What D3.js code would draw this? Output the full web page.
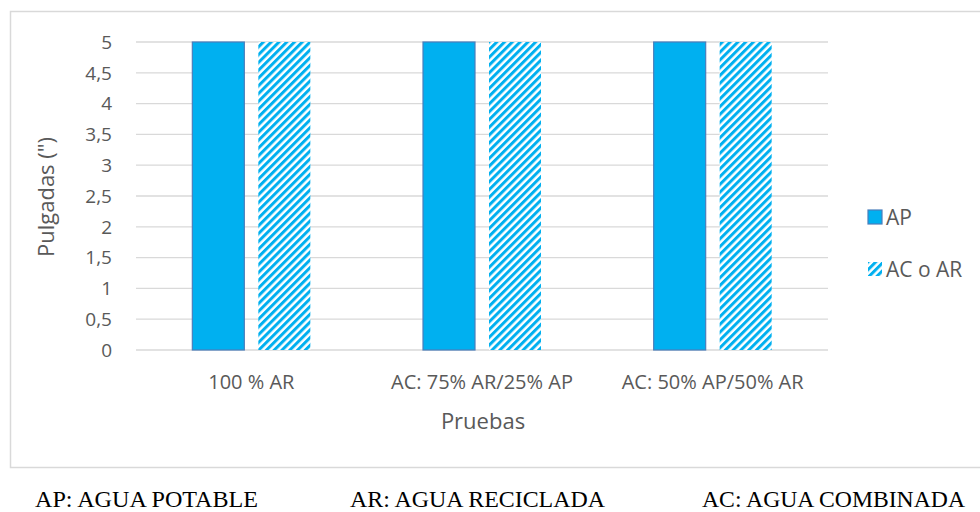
<!DOCTYPE html>
<html><head><meta charset="utf-8">
<script src="https://cdn.jsdelivr.net/npm/d3@7"></script>
<style>body{margin:0;background:#fff}svg{display:block}</style>
</head><body>
<svg id="c" width="980" height="512"></svg>
<script>
const categories = ["100 % AR", "AC: 75% AR/25% AP", "AC: 50% AP/50% AR"];
const seriesNames = ["AP", "AC o AR"];
const apValues = [5, 5, 5];
const acValues = [5, 5, 5];
const yTicks = [0, 0.5, 1, 1.5, 2, 2.5, 3, 3.5, 4, 4.5, 5];
const footnotes = ["AP: AGUA POTABLE", "AR: AGUA RECICLADA", "AC: AGUA COMBINADA"];

const svg = d3.select("#c");
const font = "'Open Sans', 'Noto Sans', sans-serif";
const txt = "#595959";
const blue = "#00b0f0";

const defs = svg.append("defs");
const pat = defs.append("pattern").attr("id","hatch").attr("patternUnits","userSpaceOnUse")
  .attr("width",5.5).attr("height",5.5).attr("patternTransform","rotate(45)");
pat.append("rect").attr("width",5.5).attr("height",5.5).attr("fill","#fff");
pat.append("rect").attr("x",0).attr("width",3).attr("height",5.5).attr("fill",blue);

// frame
svg.append("rect").attr("x",10.5).attr("y",11.5).attr("width",975).attr("height",456)
  .attr("fill","#fff").attr("stroke","#d9d9d9").attr("stroke-width",1.5);

const m = {l:136, r:828, t:42, b:350};
const x = d3.scaleBand().domain(categories).range([m.l, m.r]).paddingInner(0).paddingOuter(0);
const y = d3.scaleLinear().domain([0,5]).range([m.b, m.t]);

// gridlines
svg.append("g").selectAll("line").data(yTicks).join("line")
  .attr("x1",m.l).attr("x2",m.r).attr("y1",d=>y(d)).attr("y2",d=>y(d))
  .attr("stroke","#d9d9d9").attr("stroke-width",1.3);

// y tick labels
svg.append("g").selectAll("text").data(yTicks).join("text")
  .attr("x",112).attr("y",d=>y(d)).attr("dy","0.36em").attr("text-anchor","end")
  .attr("font-family",font).attr("font-size",19).attr("fill",txt)
  .text(d=>String(d).replace(".",","));

const bw = 52, gap = 14;
const offs = [-(gap/2+bw), gap/2];
const data = [apValues, acValues];
data.forEach((vals,si)=>{
  svg.append("g").selectAll("rect").data(vals).join("rect")
    .attr("x",(d,i)=>x(categories[i])+x.bandwidth()/2+offs[si])
    .attr("y",d=>y(d)).attr("width",bw).attr("height",d=>y(0)-y(d))
    .attr("fill", si===0 ? blue : "url(#hatch)")
    .attr("stroke", si===0 ? "#4a7ebb" : "none").attr("stroke-width",1.2);
});

// x labels
svg.append("g").selectAll("text").data(categories).join("text")
  .attr("x",d=>x(d)+x.bandwidth()/2).attr("y",389).attr("text-anchor","middle")
  .attr("font-family",font).attr("font-size",20).attr("fill",txt).text(d=>d);

// axis titles
svg.append("text").attr("x",483).attr("y",429).attr("text-anchor","middle")
  .attr("font-family",font).attr("font-size",22).attr("fill",txt).text("Pruebas");
svg.append("text").attr("transform","translate(54,197) rotate(-90)").attr("text-anchor","middle")
  .attr("font-family",font).attr("font-size",22).attr("fill",txt).text("Pulgadas (\")");

// legend
const lg = svg.append("g");
seriesNames.forEach((n,i)=>{
  const yy = 210 + i*52;
  lg.append("rect").attr("x",868).attr("y",yy).attr("width",14).attr("height",14)
    .attr("fill", i===0 ? blue : "url(#hatch)").attr("stroke", i===0 ? "#4a7ebb":"none").attr("stroke-width",1.2);
  lg.append("text").attr("x",886).attr("y",yy+7).attr("dy","0.36em")
    .attr("font-family",font).attr("font-size",21).attr("fill",txt).text(n);
});

// footnotes
const fx = [35, 350, 702], fw = [223, 255, 263];
svg.append("g").selectAll("text").data(footnotes).join("text")
  .attr("x",(d,i)=>fx[i]).attr("y",507)
  .attr("font-family","'Liberation Serif','Times New Roman',serif").attr("font-size",23).attr("fill","#000")
  .attr("textLength",(d,i)=>fw[i]).attr("lengthAdjust","spacingAndGlyphs").text(d=>d);
</script>
</body></html>
